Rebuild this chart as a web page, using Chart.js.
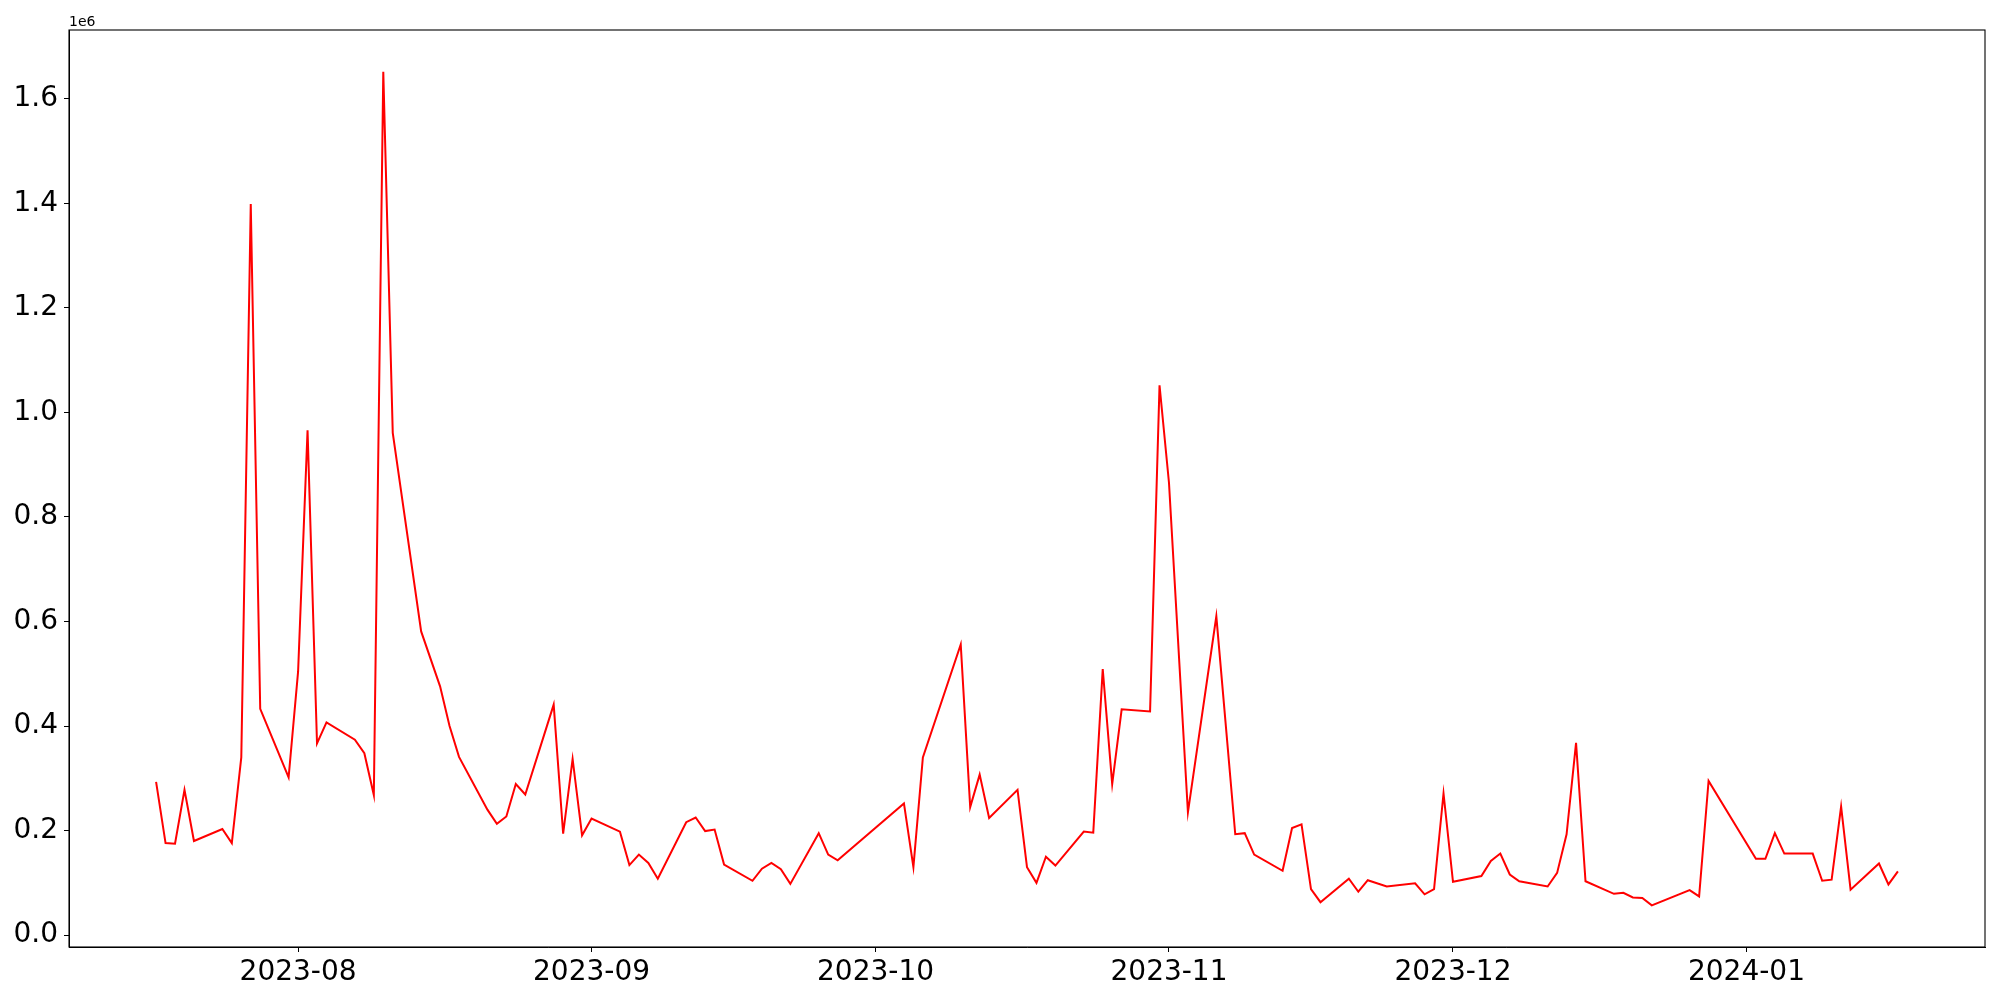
<!DOCTYPE html>
<html>
<head>
<meta charset="utf-8">
<script src="https://cdn.jsdelivr.net/npm/chart.js@4/dist/chart.umd.min.js"></script>
<style>
  html, body { margin: 0; padding: 0; background: #fff; }
  #wrap { width: 2000px; height: 1000px; }
</style>
</head>
<body>
<div id="wrap"><canvas id="chart-1"></canvas></div>
<script>
const dates = [
  "2023-07-17", "2023-07-18", "2023-07-19", "2023-07-20", "2023-07-21",
  "2023-07-24", "2023-07-25", "2023-07-26", "2023-07-27", "2023-07-28",
  "2023-07-31", "2023-08-01", "2023-08-02", "2023-08-03", "2023-08-04",
  "2023-08-07", "2023-08-08", "2023-08-09", "2023-08-10", "2023-08-11",
  "2023-08-14", "2023-08-16", "2023-08-17", "2023-08-18",
  "2023-08-21", "2023-08-22", "2023-08-23", "2023-08-24", "2023-08-25",
  "2023-08-28", "2023-08-29", "2023-08-30", "2023-08-31", "2023-09-01",
  "2023-09-04", "2023-09-05", "2023-09-06", "2023-09-07", "2023-09-08",
  "2023-09-11", "2023-09-12", "2023-09-13", "2023-09-14", "2023-09-15",
  "2023-09-18", "2023-09-19", "2023-09-20", "2023-09-21", "2023-09-22",
  "2023-09-25", "2023-09-26", "2023-09-27",
  "2023-10-04", "2023-10-05", "2023-10-06",
  "2023-10-10", "2023-10-11", "2023-10-12", "2023-10-13",
  "2023-10-16", "2023-10-17", "2023-10-18", "2023-10-19", "2023-10-20",
  "2023-10-23", "2023-10-24", "2023-10-25", "2023-10-26", "2023-10-27",
  "2023-10-30", "2023-10-31", "2023-11-01", "2023-11-03",
  "2023-11-06", "2023-11-08", "2023-11-09", "2023-11-10",
  "2023-11-13", "2023-11-14", "2023-11-15", "2023-11-16", "2023-11-17",
  "2023-11-20", "2023-11-21", "2023-11-22", "2023-11-24",
  "2023-11-27", "2023-11-28", "2023-11-29", "2023-11-30", "2023-12-01",
  "2023-12-04", "2023-12-05", "2023-12-06", "2023-12-07", "2023-12-08",
  "2023-12-11", "2023-12-12", "2023-12-13", "2023-12-14", "2023-12-15",
  "2023-12-18", "2023-12-19", "2023-12-20", "2023-12-21", "2023-12-22",
  "2023-12-26", "2023-12-27", "2023-12-28",
  "2024-01-02", "2024-01-03", "2024-01-04", "2024-01-05",
  "2024-01-08", "2024-01-09", "2024-01-10", "2024-01-11", "2024-01-12",
  "2024-01-15", "2024-01-16", "2024-01-17"
];

const volumes = [
  293000, 176000, 175000, 278000, 180000,
  203000, 176000, 340000, 1399000, 433000,
  302000, 504000, 966000, 367000, 407000,
  374000, 348000, 268000, 1652000, 961000,
  581000, 476000, 400000, 341000,
  240000, 213000, 227000, 289000, 269000,
  441000, 194000, 337000, 191000, 223000,
  198000, 134000, 154000, 138000, 108000,
  216000, 225000, 199000, 202000, 135000,
  104000, 127000, 138000, 126000, 98000,
  195000, 154000, 143000,
  252000, 130000, 340000,
  556000, 245000, 307000, 224000,
  278000, 130000, 100000, 150000, 133000,
  198000, 196000, 509000, 289000, 432000,
  428000, 1052000, 865000, 235000,
  610000, 193000, 195000, 154000,
  123000, 205000, 212000, 88000, 63000,
  108000, 83000, 105000, 93000,
  99000, 78000, 88000, 271000, 102000,
  113000, 142000, 156000, 116000, 103000,
  93000, 119000, 193000, 368000, 103000,
  79000, 81000, 72000, 71000, 57000,
  86000, 74000, 295000,
  146000, 146000, 195000, 156000,
  156000, 104000, 106000, 246000, 87000,
  137000, 97000, 122000
];

const monthTicks = ["2023-08", "2023-09", "2023-10", "2023-11", "2023-12", "2024-01"];
const yTicks = [0, 200000, 400000, 600000, 800000, 1000000, 1200000, 1400000, 1600000];

// matplotlib-like 5% margins
const xs = dates.map(d => Date.parse(d));
const xSpan = xs[xs.length - 1] - xs[0];
const yLo = Math.min(...volumes), yHi = Math.max(...volumes);
const ySpan = yHi - yLo;

const frame = {
  id: "frame",
  afterDraw(chart) {
    const { ctx, chartArea: a } = chart;
    ctx.save();
    ctx.strokeStyle = "#000";
    ctx.lineWidth = 1.1;
    ctx.strokeRect(a.left, a.top, a.right - a.left, a.bottom - a.top);
    ctx.fillStyle = "#000";
    ctx.font = "14px 'DejaVu Sans'";
    ctx.textAlign = "left";
    ctx.textBaseline = "alphabetic";
    ctx.fillText("1e6", a.left, a.top - 4);
    ctx.restore();
  }
};

const tickFont = { family: "'DejaVu Sans'", size: 28 };

const ctx1 = document.getElementById("chart-1").getContext("2d");
const myChart = new Chart(ctx1, {
  type: "line",
  data: {
    datasets: [
      {
        data: xs.map((x, i) => ({ x: x, y: volumes[i] })),
        borderColor: "red",
        borderWidth: 2,
        pointRadius: 0,
        tension: 0,
        fill: false,
      },
    ],
  },
  options: {
    responsive: true,
    maintainAspectRatio: false,
    animation: false,
    layout: { padding: { top: 30, right: 15, left: 0, bottom: 0 } },
    plugins: {
      legend: { display: false },
      tooltip: { enabled: false },
    },
    scales: {
      x: {
        type: "linear",
        min: xs[0] - 0.05 * xSpan,
        max: xs[xs.length - 1] + 0.05 * xSpan,
        afterBuildTicks: (scale) => {
          scale.ticks = monthTicks.map(m => ({ value: Date.parse(m + "-01") }));
        },
        afterFit: (scale) => { scale.height = 53; },
        ticks: {
          autoSkip: false,
          maxRotation: 0,
          padding: 4,
          color: "#000",
          font: tickFont,
          callback: (v) => new Date(v).toISOString().slice(0, 7),
        },
        grid: { drawOnChartArea: false, drawTicks: true, tickLength: 5, color: "#000" },
        border: { display: true, color: "#000", width: 1 },
      },
      y: {
        min: yLo - 0.05 * ySpan,
        max: yHi + 0.05 * ySpan,
        afterBuildTicks: (scale) => {
          scale.ticks = yTicks.map(v => ({ value: v }));
        },
        afterFit: (scale) => { scale.width = 69; },
        ticks: {
          padding: 6,
          color: "#000",
          font: tickFont,
          callback: (v) => (v / 1e6).toFixed(1),
        },
        grid: { drawOnChartArea: false, drawTicks: true, tickLength: 5, color: "#000" },
        border: { display: true, color: "#000", width: 1 },
      },
    },
  },
  plugins: [frame],
});
</script>
</body>
</html>
